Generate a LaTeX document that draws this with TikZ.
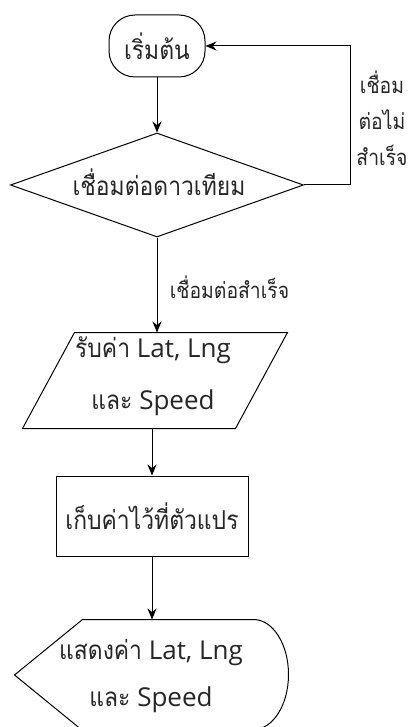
\documentclass[tikz,border=0pt]{standalone}
\usepackage{fontspec}
\setmainfont{Open Sans}
\newfontfamily\thai[Script=Thai,FakeStretch=0.88]{Loma}
\usetikzlibrary{arrows.meta,calc,shapes.geometric}
\begin{document}
\begin{tikzpicture}[x=1pt,y=-1pt,line width=1pt,
  >={Stealth[length=11pt,width=9pt]},
  every node/.style={text=black!85},
  big/.style={font=\fontsize{26}{50}\selectfont, align=center},
  small/.style={font=\thai\fontsize{22}{36}\selectfont, align=center},
  box/.style={inner sep=0pt}]
\useasboundingbox (0,0) rectangle (407,727);
\clip (0,0) rectangle (407,727);
% start
\node[draw, rounded corners=26pt, minimum width=96pt, minimum height=62pt, box, big] (start) at (157,46) {\thai เริ่มต้น};
% decision
\node[draw, diamond, minimum width=293pt, minimum height=104pt, box] (dec) at (157,185) {};
\node[big] (dect) at (159,182) {\thai เชื่อมต่อดาวเทียม};
% input / output parallelogram
\node[box, minimum width=264pt, minimum height=95pt] (io) at (155,380.5) {};
\draw ($(io.north west)+(52,0)$) -- (io.north east) -- ($(io.south east)+(-52,0)$) -- (io.south west) -- cycle;
\node[big, font=\fontsize{26}{52}\selectfont] (iot) at (153,376) {{\thai รับค่า} Lat, Lng\\{\thai และ} Speed};
% process
\node[draw, box, minimum width=192pt, minimum height=80pt, big] (proc) at (152,516) {\thai เก็บค่าไว้ที่ตัวแปร};
% display
\node[box, minimum width=273pt, minimum height=110pt] (disp) at (151.5,675) {};
\draw (disp.west) -- ($(disp.north west)+(68,0)$) -- ($(disp.north east)+(-35,0)$)
  arc(-90:90:35 and 55) -- ($(disp.south west)+(68,0)$) -- cycle;
\node[big, font=\fontsize{26}{47}\selectfont] (dispt) at (151,676) {{\thai แสดงค่า} Lat, Lng\\{\thai และ} Speed};
% connectors
\draw[->] (start.south) -- (dec.north);
\draw[->] (dec.east) -- ++(46,0) coordinate (loop) |- (start.east);
\draw[->] (dec.south) -- (dec.south |- io.north);
\draw[->] (proc.north |- io.south) -- (proc.north);
\draw[->] (proc.south) -- (proc.south |- disp.north);
% labels
\node[small] (lno) at (382,118) {เชื่อม\\ต่อไม่\\สำเร็จ};
\node[small, anchor=west] (lyes) at (166,287) {เชื่อมต่อสำเร็จ};
\end{tikzpicture}
\end{document}
